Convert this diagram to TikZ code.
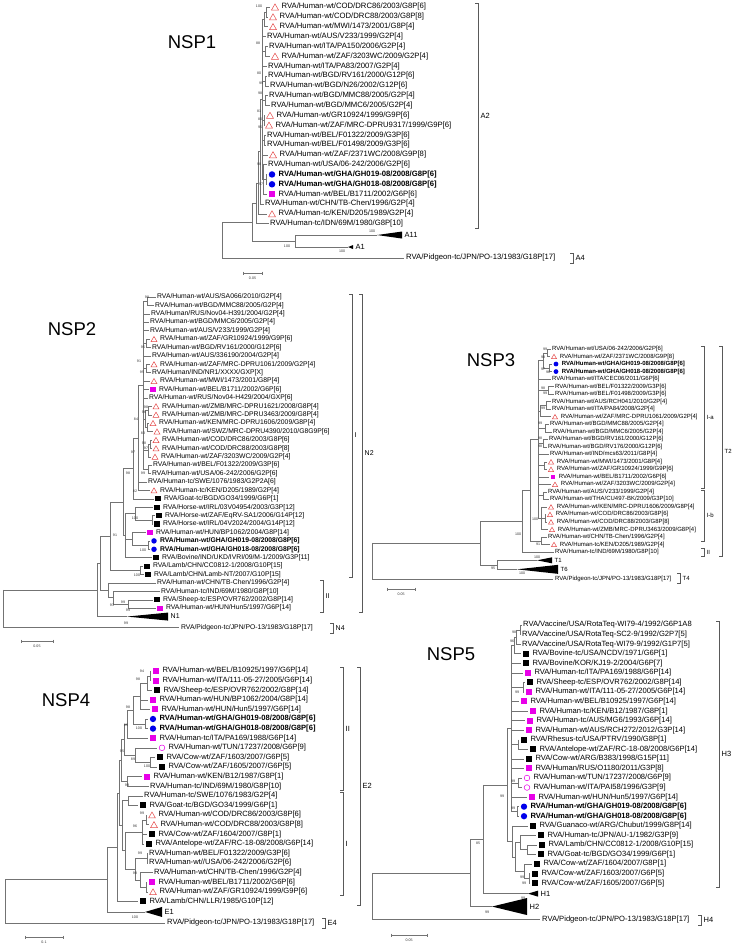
\documentclass[tikz,border=0pt]{standalone}
\usepackage{fontspec}
\setmainfont{Liberation Sans}
\usetikzlibrary{shapes.geometric}
\definecolor{trired}{RGB}{228,72,72}
\definecolor{sqmag}{RGB}{232,0,232}
\definecolor{cblue}{RGB}{0,0,235}
\definecolor{brgray}{RGB}{115,115,115}
% row index -> y
\newcommand\Y[1]{\yo+\dy*(#1-1)}
% internal node: parent x, node x, first row, last row
\newcommand\nd[4]{\draw[br] (#2,{\Y{#3}})--(#2,{\Y{#4}}) (#1,{\Y{(#3+#4)/2}})--(#2,{\Y{(#3+#4)/2}});}
% leaf: parent x, label x, row, symbol, text
\newcommand\lf[5]{\ifx\relax#4\relax
  \draw[br] (#1,{\Y{#3}})--(#2-0.8,{\Y{#3}});
  \node[leaf] at (#2,{\Y{#3}}) {#5};
 \else
  \draw[br] (#1,{\Y{#3}})--(#2-0.5*\ssz-1.5,{\Y{#3}});
  \node[#4] at (#2,{\Y{#3}}) {};
  \node[leaf] at (#2+0.5*\ssz+3.2,{\Y{#3}}) {#5};
 \fi}
\newcommand\bs[3]{\node[boot] at (#1,#2) {#3};}
% collapsed clade: apex x, right x, row, half height, label
\newcommand\cld[5]{\fill (#1,{\Y{#3}})--(#2,{\Y{#3}-#4})--(#2,{\Y{#3}+#4})--cycle;
  \node[cladelab] at (#2+2.5,{\Y{#3}}) {#5};}
% bracket: x, y1, y2, label
\newcommand\brk[4]{\draw[bk] (#1-3,#2)--(#1,#2)--(#1,#3)--(#1-3,#3);
  \node[brlab] at (#1+2.5,{(#2+#3)/2}) {#4};}
\newcommand\sbar[4]{\draw[br] (#1,#3-1.5)--(#1,#3+1.5) (#1,#3)--(#2,#3) (#2,#3-1.5)--(#2,#3+1.5);
  \node[boot] at ({(#1+#2)/2},#3+5) {#4};}

\begin{document}
\begin{tikzpicture}[x=1pt,y=-1pt,
  br/.style={draw=brgray,line width=0.45pt},
  bk/.style={draw=black!65,line width=0.45pt},
  leaf/.style={anchor=west,inner sep=0pt,font=\fontsize{\fsz}{\fsz}\selectfont},
  boot/.style={inner sep=0pt,font=\fontsize{3.6}{4}\selectfont,text=black!80},
  cladelab/.style={anchor=west,inner sep=0pt,font=\fontsize{\csz}{\csz}\selectfont},
  brlab/.style={anchor=west,inner sep=0pt,font=\fontsize{\csz}{\csz}\selectfont},
  title/.style={inner sep=0pt,font=\fontsize{18.5}{20}\selectfont},
  tri/.style={regular polygon,regular polygon sides=3,draw=trired,line width=0.5pt,inner sep=0pt,minimum size=\ssz*1.25pt,yshift=-\ssz*0.15pt},
  sqm/.style={rectangle,fill=sqmag,inner sep=0pt,minimum size=\ssz*0.95pt},
  sqk/.style={rectangle,fill=black,inner sep=0pt,minimum size=\ssz*0.95pt},
  cib/.style={circle,fill=cblue,inner sep=0pt,minimum size=\ssz*1pt},
  cio/.style={circle,draw=sqmag,line width=0.5pt,inner sep=0pt,minimum size=\ssz*0.9pt}]
\useasboundingbox (0,0) rectangle (736,948);

% ---------------- NSP1
\begin{scope}
\def\yo{7}\def\dy{9.85}\def\fsz{7.7}\def\ssz{6.5}\def\csz{7.5}
\node[title] (t1) at (192,42) {NSP1};
\nd{264}{266}{1}{2}
\nd{262}{264}{1.5}{3}
\lf{266}{275}{1}{tri}{RVA/Human-wt/COD/DRC86/2003/G8P[6]}
\lf{266}{273}{2}{tri}{RVA/Human-wt/COD/DRC88/2003/G8P[8]}
\lf{264}{273}{3}{tri}{RVA/Human-wt/MWI/1473/2001/G8P[4]}
\lf{262}{267}{4}{}{RVA/Human-wt/AUS/V233/1999/G2P[4]}
\nd{262}{265}{5}{6}
\lf{265}{269}{5}{}{RVA/Human-wt/ITA/PA150/2006/G2P[4]}
\lf{265}{275}{6}{tri}{RVA/Human-wt/ZAF/3203WC/2009/G2P[4]}
\lf{262}{268}{7}{}{RVA/Human-wt/ITA/PA83/2007/G2P[4]}
\nd{262}{265}{8}{9}
\lf{265}{268}{8}{}{RVA/Human-wt/BGD/RV161/2000/G12P[6]}
\lf{265}{270}{9}{}{RVA/Human-wt/BGD/N26/2002/G12P[6]}
\nd{262}{265}{10}{11}
\lf{265}{269}{10}{}{RVA/Human-wt/BGD/MMC88/2005/G2P[4]}
\lf{265}{271}{11}{}{RVA/Human-wt/BGD/MMC6/2005/G2P[4]}
\nd{262}{264}{12}{13}
\lf{264}{270}{12}{tri}{RVA/Human-wt/GR10924/1999/G9P[6]}
\lf{264}{269}{13}{tri}{RVA/Human-wt/ZAF/MRC-DPRU9317/1999/G9P[6]}
\nd{262}{264}{14}{15}
\lf{264}{267}{14}{}{RVA/Human-wt/BEL/F01322/2009/G3P[6]}
\lf{264}{267}{15}{}{RVA/Human-wt/BEL/F01498/2009/G3P[6]}
\lf{262}{273}{16}{tri}{RVA/Human-wt/ZAF/2371WC/2008/G9P[8]}
\nd{263}{266}{18}{19}
\nd{262}{263}{17}{20}
\lf{263}{268}{17}{}{RVA/Human-wt/USA/06-242/2006/G2P[6]}
\lf{266}{272}{18}{cib}{\bfseries RVA/Human-wt/GHA/GH019-08/2008/G8P[6]}
\lf{266}{272}{19}{cib}{\bfseries RVA/Human-wt/GHA/GH018-08/2008/G8P[6]}
\lf{263}{272}{20}{sqm}{RVA/Human-wt/BEL/B1711/2002/G6P[6]}
\nd{260}{262}{2.25}{18.5}
\nd{258}{260}{10.375}{21}
\lf{260}{265}{21}{}{RVA/Human-wt/CHN/TB-Chen/1996/G2P[4]}
\nd{256}{258}{15.6875}{22}
\lf{258}{272}{22}{tri}{RVA/Human-tc/KEN/D205/1989/G2P[4]}
\nd{252}{256}{18.84}{23}
\lf{256}{270}{23}{}{RVA/Human-tc/IDN/69M/1980/G8P[10]}
\nd{252}{295}{24.15}{25.37}
\nd{222}{252}{20.92}{24.76}
\draw[br] (295,{\Y{24.15}})--(377,{\Y{24.15}});
\cld{377}{402}{24.15}{3.5}{A11}
\draw[br] (295,{\Y{25.37}})--(348,{\Y{25.37}});
\cld{348}{353}{25.37}{2}{A1}
\draw[br] (222,{\Y{22.84}})--(222,{\Y{26.48}})--(404,{\Y{26.48}});
\node[leaf] at (406,{\Y{26.48}}) {RVA/Pidgeon-tc/JPN/PO-13/1983/G18P[17]};
\brk{478}{3}{228}{A2}
\brk{573}{253}{263}{A4}
\sbar{243}{262}{273}{0.05}
\bs{259}{6}{100}\bs{258}{43}{88}\bs{259}{73}{80}\bs{261}{83}{99}\bs{260}{93}{98}
\bs{259}{111}{81}\bs{260}{119}{80}\bs{260}{127}{95}\bs{259}{164}{98}\bs{261}{184}{97}
\bs{372}{231}{100}\bs{287}{246}{100}\bs{342}{251}{100}
\end{scope}

% ---------------- NSP2
\begin{scope}
\def\yo{297}\def\dy{8.41}\def\fsz{6.8}\def\ssz{5.5}\def\csz{7}
\node[title] (t2) at (72,329) {NSP2};
\nd{143}{147}{1}{2}
\lf{147}{157}{1}{}{RVA/Human-wt/AUS/SA066/2010/G2P[4]}
\lf{147}{155}{2}{}{RVA/Human-wt/BGD/MMC88/2005/G2P[4]}
\lf{143}{151}{3}{}{RVA/Human/RUS/Nov04-H391/2004/G2P[4]}
\lf{143}{150}{4}{}{RVA/Human-wt/BGD/MMC6/2005/G2P[4]}
\lf{143}{150}{5}{}{RVA/Human-wt/AUS/V233/1999/G2P[4]}
\nd{143}{146}{6}{7}
\lf{146}{154}{6}{tri}{RVA/Human-wt/ZAF/GR10924/1999/G9P[6]}
\lf{146}{152}{7}{}{RVA/Human-wt/BGD/RV161/2000/G12P[6]}
\lf{143}{152}{8}{}{RVA/Human-wt/AUS/336190/2004/G2P[4]}
\nd{143}{146}{9}{10}
\lf{146}{154}{9}{tri}{RVA/Human-wt/ZAF/MRC-DPRU1061/2009/G2P[4]}
\lf{146}{152}{10}{}{RVA/Human/IND/NR1/XXXX/GXP[X]}
\lf{143}{154}{11}{tri}{RVA/Human-wt/MWI/1473/2001/G8P[4]}
\lf{143}{153}{12}{sqm}{RVA/Human-wt/BEL/B1711/2002/G6P[6]}
\lf{143}{149}{13}{}{RVA/Human-wt/RUS/Nov04-H429/2004/GXP[6]}
\nd{145}{148}{14}{15}
\lf{148}{156}{14}{tri}{RVA/Human-wt/ZMB/MRC-DPRU1621/2008/G8P[4]}
\lf{148}{156}{15}{tri}{RVA/Human-wt/ZMB/MRC-DPRU3463/2009/G8P[4]}
\nd{145}{147}{16}{17}
\lf{147}{153}{16}{tri}{RVA/Human-wt/KEN/MRC-DPRU1606/2009/G8P[4]}
\lf{147}{157}{17}{tri}{RVA/Human-wt/SWZ/MRC-DPRU4390/2010/G8G9P[6]}
\nd{143}{145}{14.5}{16.5}
\nd{148}{150}{18}{19}
\lf{150}{156}{18}{tri}{RVA/Human-wt/COD/DRC86/2003/G8P[6]}
\lf{150}{156}{19}{tri}{RVA/Human-wt/COD/DRC88/2003/G8P[8]}
\nd{143}{148}{18.5}{20}
\lf{148}{155}{20}{tri}{RVA/Human-wt/ZAF/3203WC/2009/G2P[4]}
\nd{143}{148}{21}{22}
\lf{148}{153}{21}{}{RVA/Human-wt/BEL/F01322/2009/G3P[6]}
\lf{148}{152}{22}{}{RVA/Human-wt/USA/06-242/2006/G2P[6]}
\nd{138}{143}{1.5}{21.5}
\nd{133}{138}{11.5}{24}
\lf{138}{148}{23}{}{RVA/Human-tc/SWE/1076/1983/G2P2A[6]}
\lf{138}{154}{24}{tri}{RVA/Human-tc/KEN/D205/1989/G2P[4]}
\nd{123}{133}{17.75}{25}
\lf{133}{158}{25}{sqk}{RVA/Goat-tc/BGD/GO34/1999/G6P[1]}
\nd{135}{152}{27}{28}
\lf{135}{157}{26}{sqk}{RVA/Horse-wt/IRL/03V04954/2003/G3P[12]}
\lf{152}{159}{27}{sqk}{RVA/Horse-wt/ZAF/EqRV-SA1/2006/G14P[12]}
\lf{152}{157}{28}{sqk}{RVA/Horse-wt/IRL/04V2024/2004/G14P[12]}
\nd{125}{135}{26}{27.5}
\nd{132}{148}{30}{31}
\lf{132}{150}{29}{sqm}{RVA/Human-wt/HUN/BP1062/2004/G8P[14]}
\lf{148}{154}{30}{cib}{\bfseries RVA/Human-wt/GHA/GH019-08/2008/G8P[6]}
\lf{148}{154}{31}{cib}{\bfseries RVA/Human-wt/GHA/GH018-08/2008/G8P[6]}
\nd{125}{132}{29}{30.5}
\nd{123}{125}{26.75}{32}
\lf{125}{156}{32}{sqk}{RVA/Bovine/IND/UKD/IVRI/09/M-1/2009/G3P[11]}
\nd{110}{123}{21.375}{29.375}
\nd{110}{140}{33}{34}
\lf{140}{147}{33}{sqk}{RVA/Lamb/CHN/CC0812-1/2008/G10P[15]}
\lf{140}{148}{34}{sqk}{RVA/Lamb/CHN/Lamb-NT/2007/G10P[15]}
\nd{100}{110}{25.375}{33.5}
\nd{113}{128}{37}{38}
\lf{128}{157}{37}{sqk}{RVA/Sheep-tc/ESP/OVR762/2002/G8P[14]}
\lf{128}{160}{38}{sqm}{RVA/Human-wt/HUN/Hun5/1997/G6P[14]}
\nd{108}{113}{36}{37.5}
\lf{113}{161}{36}{}{RVA/Human-tc/IND/69M/1980/G8P[10]}
\nd{100}{108}{35}{36.75}
\lf{108}{157}{35}{}{RVA/Human-wt/CHN/TB-Chen/1996/G2P[4]}
\nd{97}{100}{29.4375}{35.875}
\nd{3}{97}{32.656}{39}
\draw[br] (97,{\Y{39}})--(127,{\Y{39}});
\cld{127}{168}{39}{4}{N1}
\draw[br] (3,{\Y{35.828}})--(3,{\Y{40.27}})--(179,{\Y{40.27}});
\node[leaf] at (181,{\Y{40.27}}) {RVA/Pidgeon-tc/JPN/PO-13/1983/G18P[17]};
\brk{352}{294}{577}{I}
\brk{362}{294}{612}{N2}
\brk{323}{580}{612}{II}
\brk{333}{623}{633}{N4}
\sbar{21}{53}{641}{0.05}
\bs{147}{297}{98}\bs{143}{347}{95}\bs{139}{361}{91}\bs{142}{372}{95}\bs{146}{407}{98}
\bs{144}{412}{96}\bs{136}{419}{84}\bs{143}{433}{83}\bs{144}{443}{98}\bs{146}{448}{97}
\bs{133}{452}{97}\bs{143}{473}{99}\bs{128}{473}{98}\bs{135}{491}{82}\bs{135}{518}{100}
\bs{115}{535}{91}\bs{143}{550}{100}\bs{137}{575}{100}\bs{112}{605}{93}\bs{123}{602}{99}
\bs{128}{610}{99}\bs{126}{623}{99}
\end{scope}

% ---------------- NSP3
\begin{scope}
\def\yo{349}\def\dy{7.52}\def\fsz{6.0}\def\ssz{4.8}\def\csz{6}
\node[title] (t3) at (491,360) {NSP3};
\nd{543}{547}{1}{2}
\lf{547}{552}{1}{}{RVA/Human-wt/USA/06-242/2006/G2P[6]}
\lf{547}{554}{2}{tri}{RVA/Human-wt/ZAF/2371WC/2008/G9P[8]}
\nd{543}{549}{3}{4}
\lf{549}{556}{3}{cib}{\bfseries RVA/Human-wt/GHA/GH019-08/2008/G8P[6]}
\lf{549}{556}{4}{cib}{\bfseries RVA/Human-wt/GHA/GH018-08/2008/G8P[6]}
\nd{538}{543}{1.5}{3.5}
\lf{538}{552}{5}{}{RVA/Human-wt/ITA/CEC06/2011/G6P[6]}
\nd{538}{548}{6}{7}
\lf{548}{555}{6}{}{RVA/Human-wt/BEL/F01322/2009/G3P[6]}
\lf{548}{555}{7}{}{RVA/Human-wt/BEL/F01498/2009/G3P[6]}
\nd{540}{546}{8}{9}
\lf{546}{552}{8}{}{RVA/Human-wt/AUS/RCH041/2010/G2P[4]}
\lf{546}{552}{9}{}{RVA/Human-wt/ITA/PA84/2008/G2P[4]}
\nd{538}{540}{8.5}{10}
\lf{540}{555}{10}{tri}{RVA/Human-wt/ZAF/MRC-DPRU1061/2009/G2P[4]}
\nd{538}{545}{11}{12}
\lf{545}{550}{11}{}{RVA/Human-wt/BGD/MMC88/2005/G2P[4]}
\lf{545}{553}{12}{}{RVA/Human-wt/BGD/MMC6/2005/G2P[4]}
\nd{538}{543}{13}{14}
\lf{543}{549}{13}{}{RVA/Human-wt/BGD/RV161/2000/G12P[6]}
\lf{543}{548}{14}{}{RVA/Human-wt/BGD/RV176/2000/G12P[6]}
\lf{538}{550}{15}{}{RVA/Human-wt/IND/mcs63/2011/G8P[4]}
\nd{538}{544}{16}{17}
\lf{544}{551}{16}{tri}{RVA/Human-wt/MWI/1473/2001/G8P[4]}
\lf{544}{551}{17}{tri}{RVA/Human-wt/ZAF/GR10924/1999/G9P[6]}
\lf{538}{553}{18}{sqm}{RVA/Human-wt/BEL/B1711/2002/G6P[6]}
\lf{538}{555}{19}{tri}{RVA/Human-wt/ZAF/3203WC/2009/G2P[4]}
\nd{538}{543}{20}{21}
\lf{543}{548}{20}{}{RVA/Human-wt/AUS/V233/1999/G2P[4]}
\lf{543}{550}{21}{}{RVA/Human-wt/THA/CU497-BK/2009/G3P[10]}
\nd{541}{545}{23}{24}
\lf{541}{551}{22}{tri}{RVA/Human-wt/KEN/MRC-DPRU1606/2009/G8P[4]}
\lf{545}{550}{23}{tri}{RVA/Human-wt/COD/DRC86/2003/G8P[6]}
\lf{545}{551}{24}{tri}{RVA/Human-wt/COD/DRC88/2003/G8P[8]}
\lf{541}{552}{25}{tri}{RVA/Human-wt/ZMB/MRC-DPRU3463/2009/G8P[4]}
\nd{538}{541}{22}{25}
\nd{530}{538}{2.5}{23.5}
\nd{530}{541}{26}{27}
\lf{541}{548}{26}{}{RVA/Human-wt/CHN/TB-Chen/1996/G2P[4]}
\lf{541}{554}{27}{tri}{RVA/Human-tc/KEN/D205/1989/G2P[4]}
\nd{522}{530}{13}{26.5}
\nd{480}{522}{19.75}{28}
\lf{522}{555}{28}{}{RVA/Human-tc/IND/69M/1980/G8P[10]}
\nd{480}{497}{29.1}{30.3}
\draw[br] (497,{\Y{29.1}})--(537,{\Y{29.1}});
\cld{537}{552}{29.1}{3}{T1}
\draw[br] (497,{\Y{30.3}})--(517,{\Y{30.3}});
\cld{517}{558}{30.3}{4.5}{T6}
\nd{372}{480}{23.875}{29.7}
\draw[br] (372,{\Y{26.79}})--(372,{\Y{31.6}})--(553,{\Y{31.6}});
\node[leaf] at (555,{\Y{31.6}}) {RVA/Pidgeon-tc/JPN/PO-13/1983/G18P[17]};
\brk{704}{346}{488}{I-a}
\brk{704}{490}{541}{I-b}
\brk{704}{548}{556}{II}
\brk{722}{346}{556}{T2}
\brk{680}{573}{583}{T4}
\sbar{387}{415}{589}{0.05}
\bs{545}{349}{99}\bs{543}{357}{98}\bs{543}{369}{97}\bs{548}{372}{96}\bs{543}{388}{98}
\bs{545}{393}{99}\bs{543}{408}{99}\bs{540}{423}{99}\bs{540}{438}{98}\bs{540}{446}{98}
\bs{538}{544}{91}\bs{535}{519}{100}\bs{518}{534}{100}\bs{537}{557}{100}\bs{493}{568}{95}
\bs{522}{573}{100}
\end{scope}

% ---------------- NSP4
\begin{scope}
\def\yo{671}\def\dy{9.6}\def\fsz{7.6}\def\ssz{6.3}\def\csz{7.5}
\node[title] (t4) at (66,700) {NSP4};
\nd{147}{150}{1}{2}
\lf{150}{156}{1}{sqm}{RVA/Human-wt/BEL/B10925/1997/G6P[14]}
\lf{150}{156}{2}{sqm}{RVA/Human-wt/ITA/111-05-27/2005/G6P[14]}
\nd{140}{147}{1.5}{3}
\lf{147}{157}{3}{sqk}{RVA/Sheep-tc/ESP/OVR762/2002/G8P[14]}
\nd{133}{140}{2.25}{5}
\lf{140}{153}{4}{sqm}{RVA/Human-wt/HUN/BP1062/2004/G8P[14]}
\lf{140}{155}{5}{sqm}{RVA/Human-wt/HUN/Hun5/1997/G6P[14]}
\nd{133}{145}{6}{7}
\lf{145}{153}{6}{cib}{\bfseries RVA/Human-wt/GHA/GH019-08/2008/G8P[6]}
\lf{145}{153}{7}{cib}{\bfseries RVA/Human-wt/GHA/GH018-08/2008/G8P[6]}
\nd{127}{133}{3.625}{6.5}
\nd{124}{127}{5.0625}{8}
\lf{127}{153}{8}{sqm}{RVA/Human-tc/ITA/PA169/1988/G6P[14]}
\nd{135}{150}{10}{11}
\lf{135}{162}{9}{cio}{RVA/Human-wt/TUN/17237/2008/G6P[9]}
\lf{150}{160}{10}{sqk}{RVA/Cow-wt/ZAF/1603/2007/G6P[5]}
\lf{150}{162}{11}{sqk}{RVA/Cow-wt/ZAF/1605/2007/G6P[5]}
\nd{124}{135}{9}{10.5}
\nd{121}{124}{6.53}{9.75}
\nd{121}{127}{12}{13}
\lf{127}{147}{12}{sqm}{RVA/Human-wt/KEN/B12/1987/G8P[1]}
\lf{127}{150}{13}{}{RVA/Human-tc/IND/69M/1980/G8P[10]}
\nd{119}{121}{8.14}{12.5}
\nd{122}{128}{14}{15}
\lf{128}{144}{14}{}{RVA/Human-tc/SWE/1076/1983/G2P[4]}
\lf{128}{143}{15}{sqk}{RVA/Goat-tc/BGD/GO34/1999/G6P[1]}
\nd{142}{146}{16}{17}
\lf{146}{152}{16}{tri}{RVA/Human-wt/COD/DRC86/2003/G8P[6]}
\lf{146}{154}{17}{tri}{RVA/Human-wt/COD/DRC88/2003/G8P[8]}
\nd{125}{142}{16.5}{19}
\lf{142}{152}{18}{sqk}{RVA/Cow-wt/ZAF/1604/2007/G8P[1]}
\lf{142}{149}{19}{sqk}{RVA/Antelope-wt/ZAF/RC-18-08/2008/G6P[14]}
\nd{135}{147}{20}{21}
\lf{147}{149}{20}{}{RVA/Human-wt/BEL/F01322/2009/G3P[6]}
\lf{147}{149}{21}{}{RVA/Human-wt//USA/06-242/2006/G2P[6]}
\nd{140}{146}{23}{24}
\lf{146}{152}{23}{sqm}{RVA/Human-wt/BEL/B1711/2002/G6P[6]}
\lf{146}{153}{24}{tri}{RVA/Human-wt/ZAF/GR10924/1999/G9P[6]}
\nd{135}{140}{22}{23.5}
\lf{140}{154}{22}{}{RVA/Human-wt/CHN/TB-Chen/1996/G2P[4]}
\nd{125}{135}{20.5}{22.75}
\nd{122}{125}{17.75}{21.625}
\nd{119}{122}{14.5}{19.69}
\nd{117}{119}{10.32}{17.09}
\nd{107}{117}{13.71}{25}
\lf{117}{143}{25}{sqk}{RVA/Lamb/CHN/LLR/1985/G10P[12]}
\nd{5}{107}{19.35}{26.1}
\draw[br] (107,{\Y{26.1}})--(145,{\Y{26.1}});
\cld{145}{162}{26.1}{5}{E1}
\draw[br] (5,{\Y{22.73}})--(5,{\Y{27.25}})--(165,{\Y{27.25}});
\node[leaf] at (167,{\Y{27.25}}) {RVA/Pidgeon-tc/JPN/PO-13/1983/G18P[17]};
\brk{343}{667}{790}{II}
\brk{343}{792}{895}{I}
\brk{360}{667}{905}{E2}
\brk{325}{918}{928}{E4}
\sbar{25}{63}{937}{0.1}
\bs{142}{671}{94}\bs{138}{679}{98}\bs{128}{707}{98}\bs{139}{728}{100}\bs{126}{725}{89}
\bs{122}{751}{95}\bs{133}{759}{89}\bs{147}{766}{100}\bs{127}{785}{99}\bs{142}{813}{99}
\bs{135}{826}{96}\bs{140}{853}{99}\bs{135}{873}{98}\bs{135}{917}{100}
\end{scope}

% ---------------- NSP5
\begin{scope}
\def\yo{625}\def\dy{9.56}\def\fsz{7.6}\def\ssz{6.3}\def\csz{7.5}
\node[title] (t5) at (451,654) {NSP5};
\nd{516}{520}{1}{2}
\lf{520}{523}{1}{}{RVA/Vaccine/USA/RotaTeq-WI79-4/1992/G6P1A8}
\lf{520}{522}{2}{}{RVA/Vaccine/USA/RotaTeq-SC2-9/1992/G2P7[5]}
\nd{514}{516}{1.5}{3}
\lf{516}{522}{3}{}{RVA/Vaccine/USA/RotaTeq-WI79-9/1992/G1P7[5]}
\nd{511}{514}{2.25}{4}
\lf{514}{526}{4}{sqk}{RVA/Bovine-tc/USA/NCDV/1971/G6P[1]}
\lf{511}{526}{5}{sqk}{RVA/Bovine/KOR/KJ19-2/2004/G6P[7]}
\lf{511}{528}{6}{sqm}{RVA/Human-tc/ITA/PA169/1988/G6P[14]}
\nd{511}{523}{7}{8}
\lf{523}{530}{7}{sqk}{RVA/Sheep-tc/ESP/OVR762/2002/G8P[14]}
\lf{523}{529}{8}{sqm}{RVA/Human-wt/ITA/111-05-27/2005/G6P[14]}
\lf{511}{524}{9}{sqm}{RVA/Human-wt/BEL/B10925/1997/G6P[14]}
\lf{511}{533}{10}{sqm}{RVA/Human-tc/KEN/B12/1987/G8P[1]}
\lf{511}{530}{11}{sqm}{RVA/Human-tc/AUS/MG6/1993/G6P[14]}
\lf{511}{529}{12}{sqm}{RVA/Human-wt/AUS/RCH272/2012/G3P[14]}
\nd{511}{518}{13}{14}
\lf{518}{524}{13}{sqk}{RVA/Rhesus-tc/USA/PTRV/1990/G8P[1]}
\lf{518}{533}{14}{sqk}{RVA/Antelope-wt/ZAF/RC-18-08/2008/G6P[14]}
\lf{511}{529}{15}{sqk}{RVA/Cow-wt/ARG/B383/1998/G15P[11]}
\lf{511}{529}{16}{sqm}{RVA/Human/RUS/O1180/2011/G3P[8]}
\nd{511}{518}{17}{18}
\lf{518}{527}{17}{cio}{RVA/Human-wt/TUN/17237/2008/G6P[9]}
\lf{518}{527}{18}{cio}{RVA/Human-wt/ITA/PAI58/1996/G3P[9]}
\lf{511}{532}{19}{sqm}{RVA/Human-wt/HUN/Hun5/1997/G6P[14]}
\nd{511}{517}{20}{21}
\lf{517}{524}{20}{cib}{\bfseries RVA/Human-wt/GHA/GH019-08/2008/G8P[6]}
\lf{517}{524}{21}{cib}{\bfseries RVA/Human-wt/GHA/GH018-08/2008/G8P[6]}
\nd{507}{511}{3.125}{20.5}
\nd{520}{527}{24}{25}
\lf{527}{542}{24}{sqk}{RVA/Lamb/CHN/CC0812-1/2008/G10P[15]}
\lf{527}{541}{25}{sqk}{RVA/Goat-tc/BGD/GO34/1999/G6P[1]}
\nd{515}{520}{23}{24.5}
\lf{520}{541}{23}{sqk}{RVA/Human-tc/JPN/AU-1/1982/G3P[9]}
\nd{524}{529}{27}{28}
\lf{529}{535}{27}{sqk}{RVA/Cow-wt/ZAF/1603/2007/G6P[5]}
\lf{529}{535}{28}{sqk}{RVA/Cow-wt/ZAF/1605/2007/G6P[5]}
\nd{515}{524}{26}{27.5}
\lf{524}{537}{26}{sqk}{RVA/Cow-wt/ZAF/1604/2007/G8P[1]}
\nd{512}{515}{23.75}{26.75}
\nd{507}{512}{22}{25.25}
\lf{512}{533}{22}{sqk}{RVA/Guanaco-wt/ARG/Chubut/1999/G8P[14]}
\nd{483}{507}{11.8125}{23.625}
\nd{470}{483}{17.72}{29.1}
\draw[br] (483,{\Y{29.1}})--(528,{\Y{29.1}});
\cld{528}{538}{29.1}{3}{H1}
\nd{372}{470}{23.41}{30.45}
\draw[br] (470,{\Y{30.45}})--(492,{\Y{30.45}});
\cld{492}{527}{30.45}{8.5}{H2}
\draw[br] (372,{\Y{26.93}})--(372,{\Y{31.8}})--(540,{\Y{31.8}});
\node[leaf] at (542,{\Y{31.8}}) {RVA/Pidgeon-tc/JPN/PO-13/1983/G18P[17]};
\brk{719}{621}{887}{H3}
\brk{701}{915}{925}{H4}
\sbar{391}{427}{935}{0.05}
\bs{514}{632}{98}\bs{512}{641}{96}\bs{517}{692}{99}\bs{513}{781}{99}\bs{502}{796}{99}
\bs{513}{808}{99}\bs{522}{877}{99}\bs{524}{883}{99}\bs{478}{843}{85}\bs{523}{898}{99}
\bs{487}{912}{99}
\end{scope}
\end{tikzpicture}
\end{document}
